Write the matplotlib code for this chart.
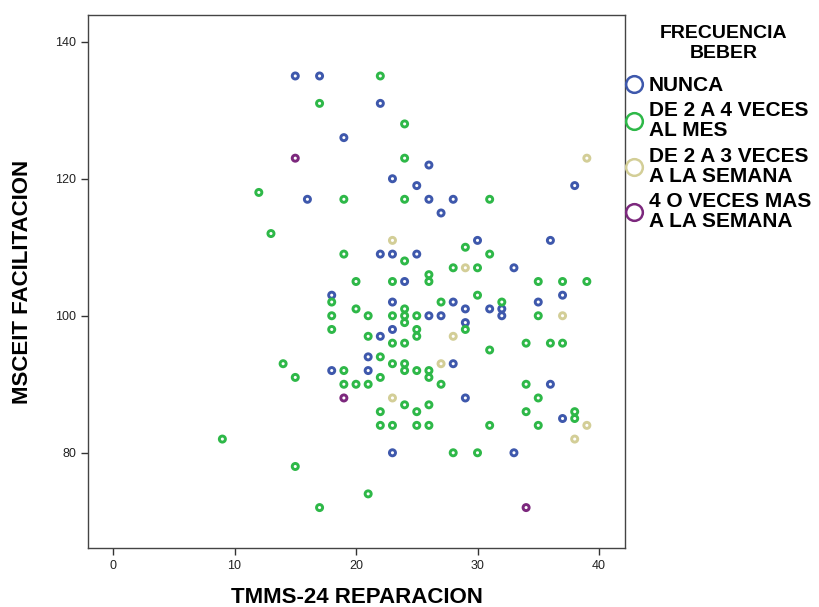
import matplotlib
matplotlib.use("Agg")
import matplotlib.pyplot as plt
from matplotlib.lines import Line2D

plt.rcParams["font.family"] = ["Liberation Sans", "DejaVu Sans"]

# valores (x = TMMS-24 REPARACION, y = MSCEIT FACILITACION)
nunca_x = [15, 17, 22, 19, 26, 23, 25, 38, 16, 26, 28, 27, 30, 36, 22, 23, 25, 33,
           24, 18, 37, 23, 28, 35, 29, 31, 32, 26, 27, 32, 29, 23, 22, 21, 28, 18,
           21, 36, 29, 37, 23, 33]
nunca_y = [135, 135, 131, 126, 122, 120, 119, 119, 117, 117, 117, 115, 111, 111, 109, 109, 109, 107,
           105, 103, 103, 102, 102, 102, 101, 101, 101, 100, 100, 100, 99, 98, 97, 94, 93, 92,
           92, 90, 88, 85, 80, 80]

mes_x = [22, 17, 24, 24, 12, 19, 24, 31, 13, 19, 29, 31, 24, 28, 30, 26, 20, 23,
         26, 35, 37, 39, 30, 18, 27, 32, 20, 24, 18, 21, 23, 24, 25, 35, 24, 18,
         25, 29, 21, 25, 23, 24, 34, 36, 37, 31, 22, 14, 23, 24, 19, 24, 25, 26,
         15, 22, 26, 19, 20, 21, 27, 34, 35, 24, 26, 22, 25, 34, 38, 38, 22, 23,
         25, 26, 31, 35, 9, 28, 30, 15, 21, 17]
mes_y = [135, 131, 128, 123, 118, 117, 117, 117, 112, 109, 110, 109, 108, 107, 107, 106, 105, 105,
         105, 105, 105, 105, 103, 102, 102, 102, 101, 101, 100, 100, 100, 100, 100, 100, 99, 98,
         98, 98, 97, 97, 96, 96, 96, 96, 96, 95, 94, 93, 93, 93, 92, 92, 92, 92,
         91, 91, 91, 90, 90, 90, 90, 90, 88, 87, 87, 86, 86, 86, 86, 85, 84, 84,
         84, 84, 84, 84, 82, 80, 80, 78, 74, 72]

semana_x = [39, 23, 29, 37, 28, 27, 23, 39, 38]
semana_y = [123, 111, 107, 100, 97, 93, 88, 84, 82]

mas_x = [15, 19, 34]
mas_y = [123, 88, 72]

grupos = ["NUNCA", "DE 2 A 4 VECES\nAL MES", "DE 2 A 3 VECES\nA LA SEMANA",
          "4 O VECES MAS\nA LA SEMANA"]
colores = ["#3E58AC", "#2EB848", "#D3CE97", "#7C287D"]

fig = plt.figure(figsize=(8.19, 6.07), dpi=100)
ax = fig.add_axes([88 / 819, 1 - 548 / 607, 537 / 819, 533 / 607])

datos = [(nunca_x, nunca_y), (mes_x, mes_y), (semana_x, semana_y), (mas_x, mas_y)]
for (xs, ys), c in zip(datos, colores):
    ax.scatter(xs, ys, s=19, facecolors="none", edgecolors=c, linewidths=2.1, zorder=3)

ax.set_xlim(-2.06, 42.14)
ax.set_ylim(66.1, 143.9)
ax.set_xticks([0, 10, 20, 30, 40])
ax.set_yticks([80, 100, 120, 140])
ax.tick_params(direction="out", length=5, width=1, colors="#333333", labelsize=9,
               labelcolor="#222222")
for sp in ax.spines.values():
    sp.set_color("#444444")
    sp.set_linewidth(1)

ax.set_xlabel("TMMS-24 REPARACION", fontsize=16, fontweight="bold", labelpad=11)
ax.set_ylabel("MSCEIT FACILITACION", fontsize=16, fontweight="bold", labelpad=16)

# titulo de la leyenda, centrado sobre las entradas
fig.text(724 / 819, 1 - 25 / 607, "FRECUENCIA\nBEBER", ha="center", va="top",
         multialignment="center", fontsize=14, fontweight="bold", linespacing=1.2)

handles = [Line2D([], [], linestyle="none", marker="o", markersize=12,
                  markerfacecolor="none", markeredgecolor=c, markeredgewidth=1.8)
           for c in colores]
leg = fig.legend(handles, grupos, loc="upper left",
                 bbox_to_anchor=(626 / 819, 1 - 76 / 607), frameon=False,
                 prop={"size": 15, "weight": "bold"}, handlelength=0.8,
                 handletextpad=0.3, labelspacing=0.3, borderaxespad=0,
                 borderpad=0)
for t in leg.get_texts():
    t.set_linespacing(1.08)

fig.savefig("out.png", dpi=100)
